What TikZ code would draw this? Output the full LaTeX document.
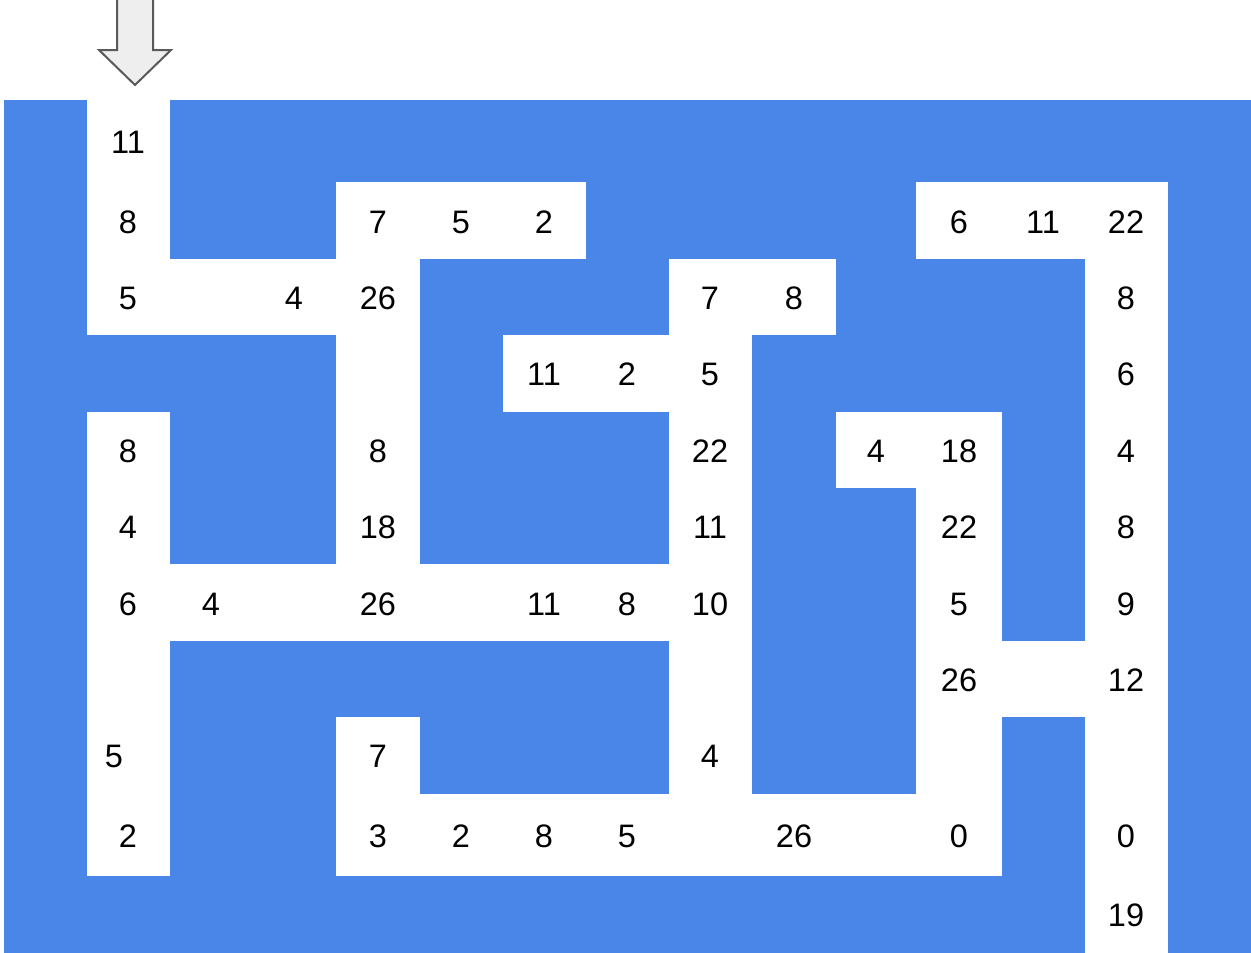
\documentclass[tikz,border=0pt]{standalone}
\usepackage{fontspec}
\setmainfont{Liberation Sans}
\definecolor{mazeblue}{HTML}{4A86E8}
\definecolor{arrowfill}{HTML}{EEEEEE}
\definecolor{arrowline}{HTML}{595959}
\begin{document}
\begin{tikzpicture}[x=1pt,y=-1pt,
  num/.style={inner sep=0pt,font=\fontsize{32.5}{38}\selectfont,text=black},
  path/.style={fill=white,draw=none},
  wall/.style={fill=mazeblue,draw=none},
  entry/.style={fill=arrowfill,draw=arrowline,line width=2pt,line join=miter}]
\useasboundingbox (0,0) rectangle (1251,953);
\fill[white] (0,0) rectangle (1251,953);
% walls
\path[wall] (4,100) rectangle (1251,953);
% corridors
\path[path] (87,100) rectangle (170,335);
\path[path] (336,182) rectangle (586,259);
\path[path] (916,182) rectangle (1168,259);
\path[path] (87,259) rectangle (420,335);
\path[path] (336,182) rectangle (420,641);
\path[path] (669,259) rectangle (836,335);
\path[path] (669,259) rectangle (752,876);
\path[path] (503,335) rectangle (752,412);
\path[path] (1085,182) rectangle (1168,953);
\path[path] (87,412) rectangle (170,876);
\path[path] (836,412) rectangle (1002,488);
\path[path] (916,412) rectangle (1002,876);
\path[path] (87,564) rectangle (752,641);
\path[path] (916,641) rectangle (1168,717);
\path[path] (336,717) rectangle (420,876);
\path[path] (336,794) rectangle (1002,876);
% entry arrow
\draw[entry] (117,-2) -- (153,-2) -- (153,50) -- (171,50) -- (135,85) -- (99,50) -- (117,50) -- cycle;
% numbers
\foreach \x/\y/\t [count=\i] in {
  128/142/11,
  128/222/8, 378/222/7, 461/222/5, 544/222/2, 959/222/6, 1043/222/11, 1126/222/22,
  128/298/5, 294/298/4, 378/298/26, 710/298/7, 794/298/8, 1126/298/8,
  544/374/11, 627/374/2, 710/374/5, 1126/374/6,
  128/451/8, 378/451/8, 710/451/22, 876/451/4, 959/451/18, 1126/451/4,
  128/527/4, 378/527/18, 710/527/11, 959/527/22, 1126/527/8,
  128/604/6, 211/604/4, 378/604/26, 544/604/11, 627/604/8, 710/604/10, 959/604/5, 1126/604/9,
  959/680/26, 1126/680/12,
  114/756/5, 378/756/7, 710/756/4,
  128/836/2, 378/836/3, 461/836/2, 544/836/8, 627/836/5, 794/836/26, 959/836/0, 1126/836/0,
  1126/915/19}
  \node[num] (n\i) at (\x,\y) {\t};
\end{tikzpicture}
\end{document}
